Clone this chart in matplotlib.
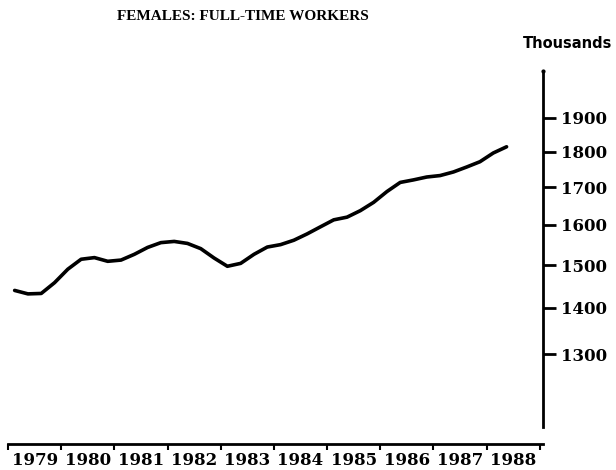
import matplotlib
matplotlib.use("Agg")
import matplotlib.pyplot as plt
from matplotlib.ticker import NullLocator

# quarterly figures, thousands
quarters = [1979.125 + 0.25 * i for i in range(38)]
workers = [1440, 1432, 1433, 1458, 1490, 1514, 1518, 1509, 1512, 1526,
           1543, 1555, 1558, 1553, 1540, 1517, 1497, 1504, 1526, 1544,
           1550, 1561, 1577, 1595, 1613, 1620, 1637, 1659, 1688, 1713,
           1720, 1728, 1732, 1742, 1756, 1771, 1796, 1814]
years = [str(y) for y in range(1979, 1989)]
yticks = [1300, 1400, 1500, 1600, 1700, 1800, 1900]

fig = plt.figure(figsize=(6.16, 4.70), dpi=100)
ax = fig.add_axes([8 / 616, 1 - 444 / 470, (543 - 8) / 616, (444 - 71) / 470])

ax.plot(quarters, workers, color="black", lw=2.6,
        solid_capstyle="round", solid_joinstyle="round")

ax.set_yscale("log")
ax.set_ylim(1125, 2049)
ax.set_xlim(1979, 1989.06)

for s in ["left", "top"]:
    ax.spines[s].set_visible(False)
ax.spines["right"].set_linewidth(2)
ax.spines["right"].set_bounds(1156, 2049)
ax.spines["bottom"].set_linewidth(2)
ax.plot([1989.06], [2049], "k.", ms=4, clip_on=False)

ax.yaxis.tick_right()
ax.yaxis.set_minor_locator(NullLocator())
ax.set_yticks(yticks)
ax.set_yticklabels([str(v) for v in yticks], fontsize=12, fontweight="bold",
                   family="DejaVu Serif")
ax.tick_params(axis="y", direction="out", length=9, width=2, pad=4)

ax.set_xticks(range(1979, 1990))
ax.set_xticklabels([])
ax.set_xticks([y + 0.5 for y in range(1979, 1989)], minor=True)
ax.set_xticklabels(years, minor=True, fontsize=12, fontweight="bold",
                   family="DejaVu Serif")
ax.tick_params(axis="x", which="major", direction="out", length=4, width=1.5)
ax.tick_params(axis="x", which="minor", length=0, pad=6)

fig.text(243 / 616, 1 - 16 / 470, "FEMALES: FULL-TIME WORKERS", ha="center",
         va="center", fontsize=11, fontweight="bold", family="Liberation Serif")
fig.text(612 / 616, 1 - 44 / 470, "Thousands", ha="right", va="center",
         fontsize=10.5, fontweight="bold", family="DejaVu Sans")

fig.savefig("out.png", dpi=100)
